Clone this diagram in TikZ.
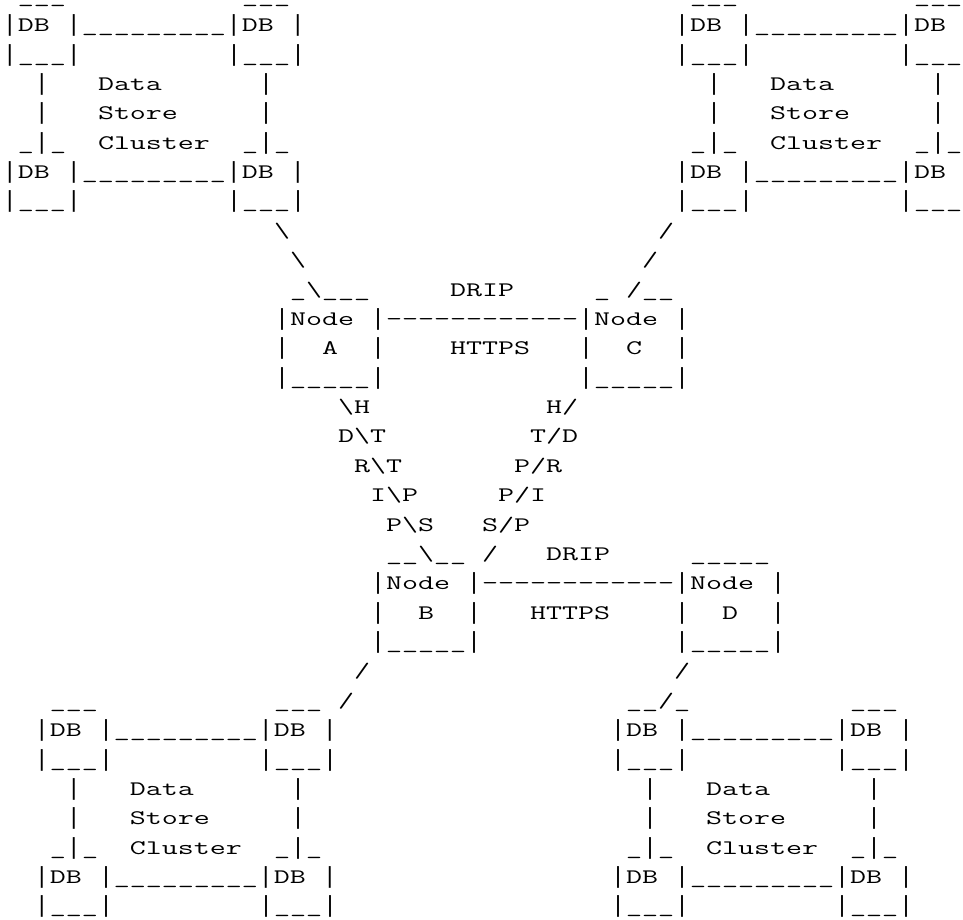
\documentclass[tikz,border=0pt]{standalone}
\usepackage{graphicx}
\usepackage{fontspec}
\newfontfamily\barfont{Liberation Mono}[Scale=1]

\newlength\chw
\newcommand\asciisize{\fontsize{15.5}{18}\selectfont\ttfamily}
\newcommand\bs{\textbackslash}
\newcommand\vb{\makebox[\chw][c]{\scalebox{\isx}[1]{\fontsize{17.5}{18}\barfont|}}}
\newcommand\dashline{-\kern0pt-\kern0pt-\kern0pt-\kern0pt-\kern0pt-\kern0pt-\kern0pt-\kern0pt-\kern0pt-\kern0pt-\kern0pt-}
\AtBeginDocument{\settowidth{\chw}{\asciisize M}\pgfmathsetmacro\sx{12pt/\chw}\pgfmathsetmacro\isx{1/\sx}}

\begin{document}
\begin{tikzpicture}[x=\chw, y=-22.03125pt, xscale=\sx, transform shape,
    every node/.style={font=\asciisize, inner sep=0pt, outer sep=0pt, anchor=base west}]
    \useasboundingbox (-0.125,-0.0791) rectangle (60.0625,31.24);
    \clip (-0.125,-0.0791) rectangle (60.0625,31.24);

    % data store clusters
    \foreach \c/\r/\n in {0/0/tl, 42/0/tr, 2/24/bl, 38/24/br} {
        \node (\n-top) at (\c+15,\r) {\_\_\_};
        \node (\n-db1) at (\c,\r+1) {\vb DB \vb\_\_\_\_\_\_\_\_\_\vb DB \vb};
        \node (\n-b1l) at (\c,\r+2) {\vb\_\_\_\vb};
        \node (\n-b1r) at (\c+14,\r+2) {\vb\_\_\_\vb};
        \node (\n-v1l) at (\c+2,\r+3) {\vb};
        \node (\n-t1) at (\c+6,\r+3) {Data};
        \node (\n-v1r) at (\c+16,\r+3) {\vb};
        \node (\n-v2l) at (\c+2,\r+4) {\vb};
        \node (\n-t2) at (\c+6,\r+4) {Store};
        \node (\n-v2r) at (\c+16,\r+4) {\vb};
        \node (\n-v3l) at (\c+1,\r+5) {\_\vb\_};
        \node (\n-t3) at (\c+6,\r+5) {Cluster};
        \node (\n-v3r) at (\c+15,\r+5) {\_\vb\_};
        \node (\n-db2) at (\c,\r+6) {\vb DB \vb\_\_\_\_\_\_\_\_\_\vb DB \vb};
        \node (\n-b2l) at (\c,\r+7) {\vb\_\_\_\vb};
        \node (\n-b2r) at (\c+14,\r+7) {\vb\_\_\_\vb};
    }
    \node (tl-topl) at (1,0) {\_\_\_};
    \node (tr-topl) at (43,0) {\_\_\_};
    \node (bl-topl) at (3,24) {\_\_\_};
    \node (br-topl) at (39,24) {\_\_/\_};

    % links from the clusters
    \node (la1) at (17,8) {\bs};
    \node (la2) at (18,9) {\bs};
    \node (lc1) at (41,8) {/};
    \node (lc2) at (40,9) {/};
    \node (lb1) at (22,23) {/};
    \node (lb2) at (21,24) {/};
    \node (ld1) at (42,23) {/};

    % node A and node C
    \node (a-top) at (18,10) {\_\bs\_\_\_};
    \node (ac-drip) at (28,10) {DRIP};
    \node (c-top) at (37,10) {\_ /\_\_};
    \node (a-1) at (17,11) {\vb Node \vb};
    \node (ac-line) at (24,11) {\dashline};
    \node (c-1) at (36,11) {\vb Node \vb};
    \node (a-l) at (17,12) {\vb};
    \node (a-name) at (20,12) {A};
    \node (a-r) at (23,12) {\vb};
    \node (ac-https) at (28,12) {HTTPS};
    \node (c-l) at (36,12) {\vb};
    \node (c-name) at (39,12) {C};
    \node (c-r) at (42,12) {\vb};
    \node (a-bot) at (17,13) {\vb\_\_\_\_\_\vb};
    \node (c-bot) at (36,13) {\vb\_\_\_\_\_\vb};

    % diagonal links to node B
    \node (ab1) at (21,14) {\bs H};
    \node (ab2) at (21,15) {D\bs T};
    \node (ab3) at (22,16) {R\bs T};
    \node (ab4) at (23,17) {I\bs P};
    \node (ab5) at (24,18) {P\bs S};
    \node (cb1) at (34,14) {H/};
    \node (cb2) at (33,15) {T/D};
    \node (cb3) at (32,16) {P/R};
    \node (cb4) at (31,17) {P/I};
    \node (cb5) at (30,18) {S/P};
    \node (cb6) at (30,19) {/};

    % node B and node D
    \node (b-top) at (24,19) {\_\_\bs\_\_};
    \node (bd-drip) at (34,19) {DRIP};
    \node (d-top) at (43,19) {\_\_\_\_\_};
    \node (b-1) at (23,20) {\vb Node \vb};
    \node (bd-line) at (30,20) {\dashline};
    \node (d-1) at (42,20) {\vb Node \vb};
    \node (b-l) at (23,21) {\vb};
    \node (b-name) at (26,21) {B};
    \node (b-r) at (29,21) {\vb};
    \node (bd-https) at (33,21) {HTTPS};
    \node (d-l) at (42,21) {\vb};
    \node (d-name) at (45,21) {D};
    \node (d-r) at (48,21) {\vb};
    \node (b-bot) at (23,22) {\vb\_\_\_\_\_\vb};
    \node (d-bot) at (42,22) {\vb\_\_\_\_\_\vb};
\end{tikzpicture}
\end{document}
